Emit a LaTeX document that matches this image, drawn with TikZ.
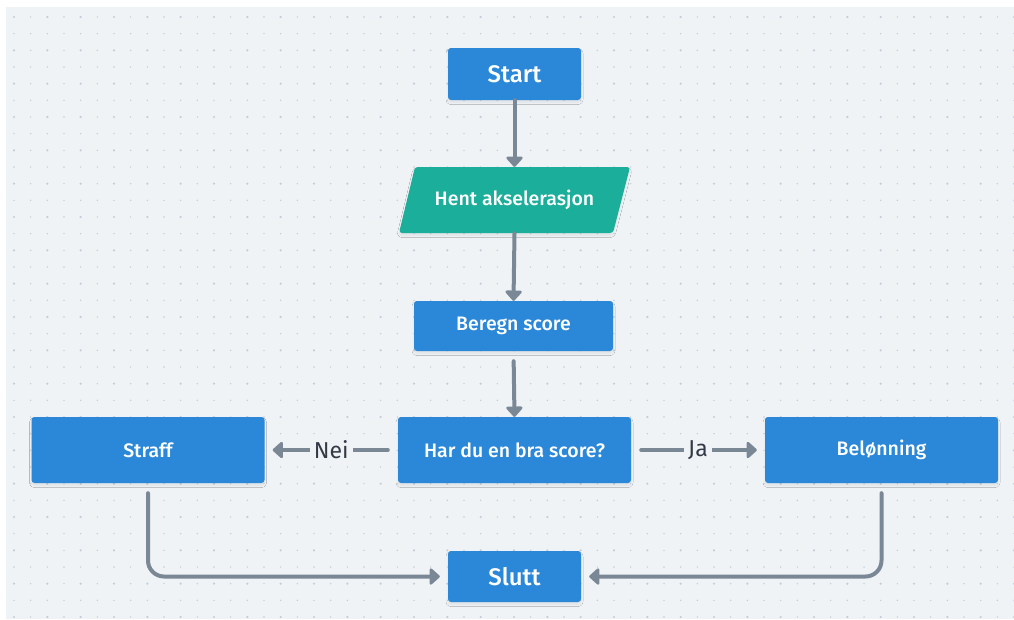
\documentclass[tikz,border=0pt]{standalone}
\usepackage{fontspec}
\setmainfont{Fira Sans}
\newfontfamily\boxfont{Fira Sans Medium}
\usetikzlibrary{arrows.meta,shadows.blur}

\definecolor{pagebg}{HTML}{F0F3F6}
\definecolor{griddot}{HTML}{C3CCD8}
\definecolor{boxblue}{HTML}{2B88D8}
\definecolor{ioteal}{HTML}{1BAE9A}
\definecolor{linkgray}{HTML}{7A8794}
\definecolor{labelink}{HTML}{323A45}

\tikzset{
  softshadow/.style={blur shadow={shadow xshift=0pt, shadow yshift=-2.5pt,
      shadow blur radius=2pt, shadow blur steps=5, shadow opacity=7}},
  stepbox/.style={fill=boxblue, rounded corners=3pt, text=white, inner sep=0pt,
      font=\boxfont\fontsize{19.5}{22}\selectfont, softshadow},
  endbox/.style={stepbox, font=\boxfont\fontsize{24}{26}\selectfont},
  link/.style={draw=linkgray, line width=4pt, line cap=round,
      -{Triangle[width=19pt,length=11pt,round]}},
  linklabel/.style={fill=pagebg, text=labelink, inner sep=4pt,
      font=\fontsize{23}{25}\selectfont}
}

\begin{document}
\begin{tikzpicture}[x=1pt,y=-1pt]
  \useasboundingbox (0,0) rectangle (1014,619);
  % canvas with dot grid
  \fill[pagebg] (6,7) rectangle (1014,619);
  \foreach \i in {0,...,60}{
    \foreach \j in {0,...,36}{
      \pgfmathsetmacro{\dotr}{(mod(\i,2)==0 && mod(\j,2)==0) ? 1.2 : 0.8}
      \fill[griddot] ({14+16.667*\i},{17+16.667*\j}) circle[radius=\dotr pt];
    }
  }

  % input shape (parallelogram)
  \fill[ioteal, rounded corners=3pt, softshadow]
    (415,167) -- (630,167) -- (613,233) -- (399,233) -- cycle;

  % nodes
  \node[endbox, minimum width=133pt, minimum height=52pt] (start) at (514.5,74) {Start};
  \node[text=white, inner sep=0pt, minimum width=215pt, minimum height=66pt,
        font=\boxfont\fontsize{19.5}{22}\selectfont] (hent) at (514.5,200) {Hent akselerasjon};
  \node[stepbox, minimum width=199pt, minimum height=50pt] (beregn) at (513.5,326) {Beregn score};
  \node[stepbox, minimum width=233pt, minimum height=66pt] (sporsmal) at (514.5,450) {Har du en bra score?};
  \node[stepbox, minimum width=233pt, minimum height=66pt] (straff) at (148,450) {Straff};
  \node[stepbox, minimum width=233pt, minimum height=66pt] (belonning) at (881.5,450) {Belønning};
  \node[endbox, minimum width=133pt, minimum height=51pt] (slutt) at (514.5,576.5) {Slutt};

  % connectors
  \draw[link] (start.south) -- (hent.north);
  \draw[link] (hent.south) -- (beregn.north);
  \draw[link, shorten <=10pt] (beregn.south) -- (sporsmal.north);

  \draw[link, shorten <=10pt, shorten >=8pt] (sporsmal.west) -- (straff.east)
    node[linklabel, midway] (nei) {Nei};
  \draw[link, shorten <=10pt, shorten >=8pt] (sporsmal.east) -- (belonning.west)
    node[linklabel, midway] (ja) {Ja};

  \draw[link, rounded corners=16pt, shorten <=10pt, shorten >=8pt]
    (straff.south) |- (slutt.west);
  \draw[link, rounded corners=16pt, shorten <=10pt, shorten >=8pt]
    (belonning.south) |- (slutt.east);
\end{tikzpicture}
\end{document}
